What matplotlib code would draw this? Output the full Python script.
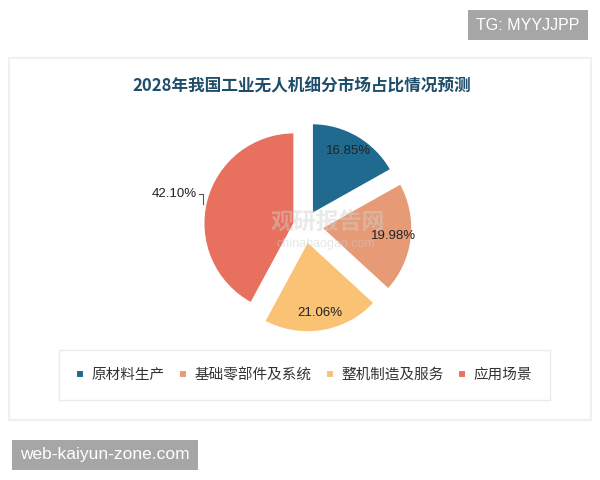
import numpy as np
import matplotlib.pyplot as plt
from matplotlib.patches import Rectangle

plt.rcParams['font.family'] = ['Noto Sans CJK SC', 'DejaVu Sans']

# donnees
categories = ["原材料生产", "基础零部件及系统", "整机制造及服务", "应用场景"]
shares = [16.85, 19.98, 21.06, 42.10]
colors = ["#1F6A8E", "#E69A75", "#FAC274", "#E8705F"]
explode = [0.15, 0.18, 0.17, 0.12]
title = "2028年我国工业无人机细分市场占比情况预测"

fig = plt.figure(figsize=(6, 4.8), dpi=100)
ax = fig.add_axes([0, 0, 1, 1])

def Y(y):
    # pixels depuis le haut -> coordonnees
    return 480 - y

# carte de fond
ax.add_patch(Rectangle((9, Y(420)), 582, 362, facecolor="white", edgecolor="#F0F0F0", lw=1.5, zorder=0))

cx, cy, R = 305, Y(226), 91
wedges, texts, autotexts = ax.pie(shares, colors=colors, startangle=90, counterclock=False,
                                  explode=[e * R for e in explode], radius=R, center=(cx, cy),
                                  autopct="%.2f%%", pctdistance=0.8, frame=True,
                                  wedgeprops=dict(edgecolor="white", linewidth=1.5),
                                  textprops=dict(fontsize=9.5, color="#222222", family="Liberation Sans"))
ax.set_xlim(0, 600)
ax.set_ylim(0, 480)
ax.set_aspect("equal")
ax.axis("off")

# etiquette exterieure pour la plus grande part
w = wedges[3]
mid = np.deg2rad((w.theta1 + w.theta2) / 2)
off = explode[3] * R
ex = cx + (R + off) * np.cos(mid)
ey = cy + (R + off) * np.sin(mid)
autotexts[3].set_position((ex - 9, ey + 7))
autotexts[3].set_ha("right")
autotexts[3].set_va("center")
ax.plot([ex - 7, ex - 3, ex - 3], [ey + 7, ey + 7, ey - 3], color="#555555", lw=0.8)

# filigrane
ax.text(328, Y(223), "观研报告网", fontsize=16.5, fontweight="bold", color="#D0D0D0", alpha=0.45,
        ha="center", va="center")
ax.text(326, Y(244), "chinabaogao.com", fontsize=9, color="#D0D0D0", alpha=0.5,
        ha="center", va="center", family="Liberation Sans")

ax.text(302, Y(86), title, fontsize=12, fontweight="bold", color="#1F4E6B", ha="center", va="center")

leg = ax.legend(wedges, categories, loc="center", bbox_to_anchor=(304 / 600, 1 - 375 / 480), ncol=4,
                frameon=True, fancybox=False, fontsize=10.5, handlelength=0.55, handleheight=0.55,
                handletextpad=0.5, columnspacing=1.0, borderpad=1.2,
                bbox_transform=fig.transFigure)
leg.get_frame().set_edgecolor("#E6E6E6")
leg.get_frame().set_linewidth(1.0)
for t in leg.get_texts():
    t.set_color("#333333")

# marques en surimpression
fig.text(528 / 600, 1 - 25 / 480, "TG: MYYJJPP", fontsize=11.5, color="white", ha="center", va="center",
         family="Liberation Sans",
         bbox=dict(boxstyle="square,pad=0.5", facecolor="#A6A6A6", edgecolor="none"))
fig.text(105 / 600, 1 - 455 / 480, "web-kaiyun-zone.com", fontsize=12.5, color="white", ha="center",
         va="center", family="Liberation Sans",
         bbox=dict(boxstyle="square,pad=0.45", facecolor="#A6A6A6", edgecolor="none"))

fig.savefig("out.png", dpi=100, facecolor="white")
